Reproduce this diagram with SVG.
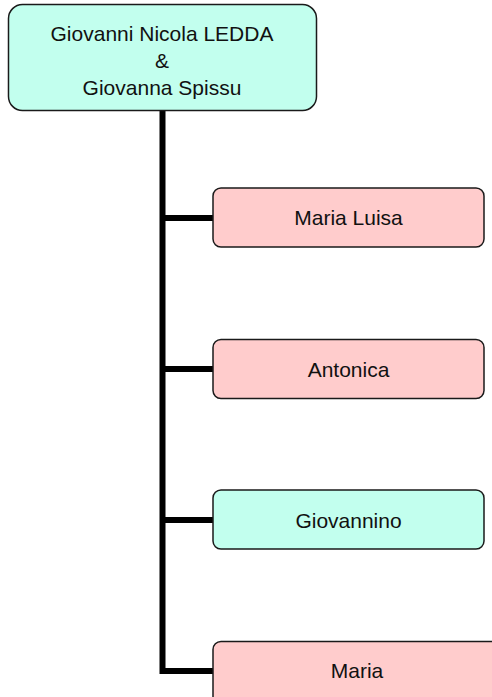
<svg xmlns="http://www.w3.org/2000/svg" width="492" height="697" viewBox="0 0 492 697">
<style>
.box{stroke:#1a1a1a;stroke-width:1.5}
.m{fill:#C2FFEE}
.f{fill:#FFCCCC}
.t{font-family:"Liberation Sans",Arial,sans-serif;font-size:21px;fill:#111;text-anchor:middle}
.c{stroke:#000;stroke-width:6;fill:none;stroke-linejoin:miter}
</style>
<rect width="492" height="697" fill="#fff"/>
<g id="connectors">
<path class="c" d="M162.5 111 V671 H213"/>
<path class="c" d="M162.5 218 H213"/>
<path class="c" d="M162.5 369 H213"/>
<path class="c" d="M162.5 520 H213"/>
</g>
<g id="parents">
<rect class="box m" x="8.5" y="4.5" width="308" height="106" rx="14"/>
<text class="t" x="162" y="41">Giovanni Nicola LEDDA</text>
<text class="t" x="162" y="68">&amp;</text>
<text class="t" x="162" y="94.5">Giovanna Spissu</text>
</g>
<g id="maria-luisa">
<rect class="box f" x="213" y="188" width="271" height="59" rx="8"/>
<text class="t" x="348.5" y="225">Maria Luisa</text>
</g>
<g id="antonica">
<rect class="box f" x="213" y="339.5" width="271" height="59" rx="8"/>
<text class="t" x="348.5" y="376.5">Antonica</text>
</g>
<g id="giovannino">
<rect class="box m" x="213" y="490" width="271" height="59" rx="8"/>
<text class="t" x="348.5" y="527.5">Giovannino</text>
</g>
<g id="maria">
<rect class="box f" x="213" y="641.5" width="290" height="80" rx="8"/>
<text class="t" x="357" y="678">Maria</text>
</g>
</svg>
